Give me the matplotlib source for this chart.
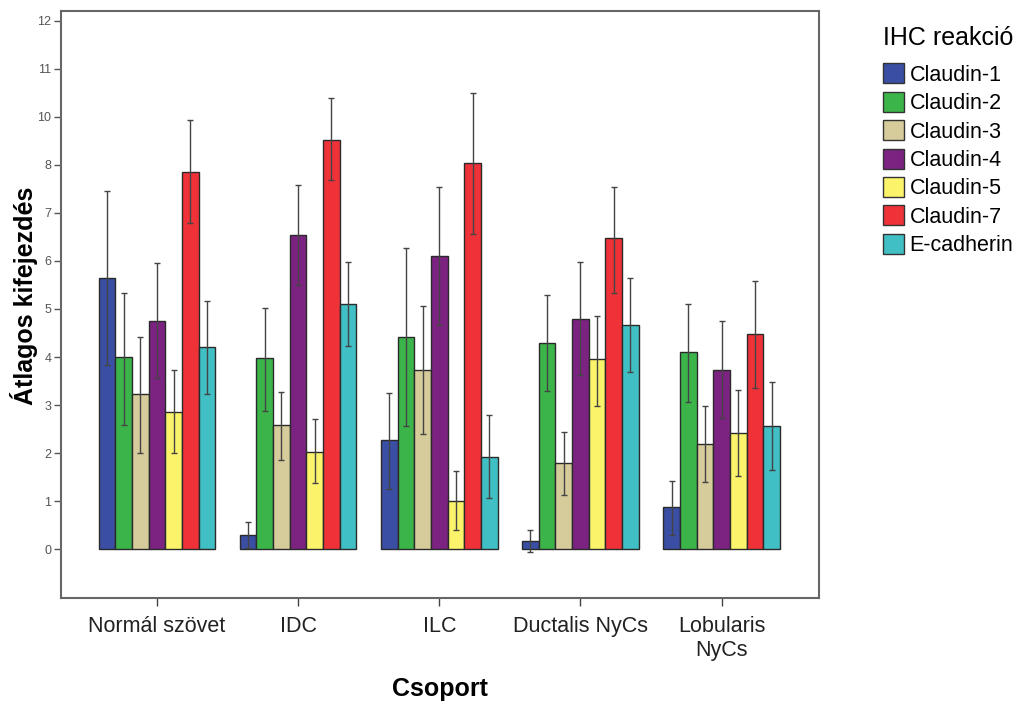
import numpy as np
import matplotlib
matplotlib.use('Agg')
import matplotlib.pyplot as plt
from matplotlib.patches import Patch

plt.rcParams['font.family'] = ['Liberation Sans', 'DejaVu Sans']

groups = ['Normál szövet', 'IDC', 'ILC', 'Ductalis NyCs', 'Lobularis\nNyCs']
series = ['Claudin-1', 'Claudin-2', 'Claudin-3', 'Claudin-4', 'Claudin-5', 'Claudin-7', 'E-cadherin']
colors = ['#3a4fa3', '#3bb54a', '#d6cb9a', '#7c2382', '#fbf36a', '#ee3237', '#40bfc4']

# mean per group (rows = series, cols = groups)
means = np.array([
    [5.65, 0.29, 2.27, 0.17, 0.87],
    [3.99, 3.97, 4.41, 4.30, 4.10],
    [3.22, 2.58, 3.74, 1.79, 2.18],
    [4.76, 6.55, 6.11, 4.80, 3.74],
    [2.85, 2.02, 1.00, 3.95, 2.41],
    [7.86, 8.52, 8.05, 6.47, 4.47],
    [4.20, 5.11, 1.91, 4.66, 2.56],
])
upper = np.array([
    [7.46, 0.56, 3.26, 0.40, 1.41],
    [5.34, 5.03, 6.26, 5.30, 5.11],
    [4.41, 3.28, 5.07, 2.43, 2.97],
    [5.95, 7.59, 7.55, 5.97, 4.74],
    [3.74, 2.70, 1.62, 4.86, 3.31],
    [8.94, 9.40, 9.50, 7.55, 5.59],
    [5.16, 5.97, 2.79, 5.65, 3.47],
])
lower = np.array([
    [3.83, 0.02, 1.25, -0.05, 0.29],
    [2.58, 2.87, 2.56, 3.30, 3.06],
    [2.00, 1.85, 2.39, 1.12, 1.39],
    [3.56, 5.49, 4.66, 3.62, 2.72],
    [2.00, 1.37, 0.40, 2.99, 1.52],
    [6.80, 7.69, 6.57, 5.34, 3.35],
    [3.24, 4.22, 1.06, 3.68, 1.64],
])

ytick_pos = np.arange(0, 12)
ytick_labels = ['0', '1', '2', '3', '4', '5', '6', '7', '8', '10', '11', '12']

fig = plt.figure(figsize=(10.23, 7.02), dpi=100)
ax = fig.add_axes([0.0596, 0.148, 0.741, 0.836])

x = np.arange(len(groups))
w = 0.118
n = len(series)
for i in range(n):
    xs = x + (i - (n - 1) / 2) * w
    ax.bar(xs, means[i], width=w, color=colors[i], edgecolor='#2a2a2a', linewidth=1.0, zorder=2)
    err = np.vstack([means[i] - lower[i], upper[i] - means[i]])
    ax.errorbar(xs, means[i], yerr=err, fmt='none', ecolor='#444444', elinewidth=1.0,
                capsize=2, capthick=1.0, zorder=3)

ax.set_xlim(-0.68, 4.69)
ax.set_ylim(-1.02, 11.2)
ax.set_yticks(ytick_pos)
ax.set_yticklabels(ytick_labels, fontsize=9, color='#555555')
ax.set_xticks(x)
ax.set_xticklabels(groups, fontsize=15.5, color='#222222', linespacing=1.15)
ax.tick_params(axis='y', direction='out', length=5, width=1, color='#555555', pad=2)
ax.tick_params(axis='x', direction='out', length=6, width=1, color='#444444', pad=7)
for s in ax.spines.values():
    s.set_color('#666666')
    s.set_linewidth(1.5)

ax.set_xlabel('Csoport', fontsize=18, fontweight='bold')
ax.xaxis.set_label_coords(0.5, -0.134)
ax.set_ylabel('Átlagos kifejezdés', fontsize=18, fontweight='bold')
ax.yaxis.set_label_coords(-0.03, 0.515)

handles = [Patch(facecolor=c, edgecolor='#333333', linewidth=1.0) for c in colors]
leg = fig.legend(handles, series, loc='upper left', bbox_to_anchor=(0.848, 0.985),
                 frameon=False, title='IHC reakció', fontsize=15.5, title_fontsize=18,
                 handlelength=1.0, handleheight=1.05, labelspacing=0.28, handletextpad=0.25,
                 borderpad=0.2)
leg._legend_box.align = 'left'
leg._legend_box.sep = 10

fig.savefig('out.png', dpi=100, facecolor='white')
